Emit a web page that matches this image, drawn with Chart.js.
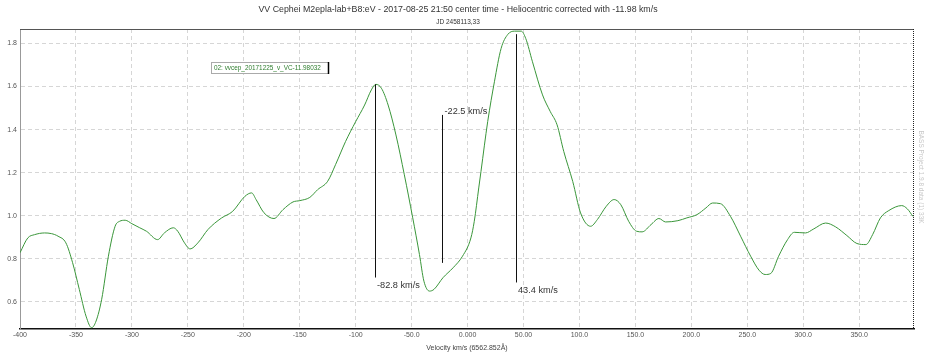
<!DOCTYPE html>
<html>
<head>
<meta charset="utf-8">
<script src="https://cdn.jsdelivr.net/npm/chart.js@4"></script>
<style>
html,body{margin:0;padding:0;background:#fff;}
#wrap{width:928px;height:356px;position:relative;}
</style>
</head>
<body>
<div id="wrap"><canvas id="c" width="928" height="356"></canvas></div>
<script>
const titleText = "VV Cephei M2epla-lab+B8:eV - 2017-08-25 21:50 center time - Heliocentric corrected with -11.98 km/s";
const subtitleText = "JD 2458113,33";
const xAxisTitle = "Velocity km/s (6562.852\u00C5)";
const legendText = "02: vvcep_20171225_v_VC-11.98032";
const sideText = "BASS Project 1.9.8 data (1) 33K";

const velocities = [-400,-393,-387,-378,-372,-366,-359,-353,-347,-341,-336,-332,-327,-321,-315,-311,-306,-300,-293,-287,-277,-271,-263,-259,-253,-248,-241,-232,-220,-210,-199,-193,-189,-182,-173,-165,-156,-150,-141,-134,-125,-118,-109,-100,-92,-86,-82,-77,-71,-64,-56.5,-49,-43,-39,-34,-30,-22,-13,-4.5,3,6,10,12,18,24,30,36,42,48,52,58,67,74,80,86,94,101,110,116,124,131,137,144,151,156,164,171,177,188,196,205,213,219,226,235,244,253,260.5,266,271,278,286,292,302,309.5,320,329,339,348,356,362,369,376.5,388,393,398];
const fluxes = [0.828,0.897,0.912,0.920,0.917,0.905,0.874,0.782,0.658,0.534,0.480,0.511,0.612,0.812,0.951,0.974,0.979,0.963,0.944,0.928,0.889,0.920,0.944,0.928,0.874,0.846,0.874,0.936,0.989,1.020,1.090,1.106,1.075,1.014,0.987,1.028,1.064,1.070,1.085,1.121,1.160,1.237,1.345,1.437,1.514,1.584,1.610,1.592,1.514,1.375,1.190,0.990,0.820,0.696,0.650,0.658,0.712,0.758,0.812,0.897,0.974,1.129,1.206,1.437,1.622,1.777,1.842,1.857,1.857,1.823,1.715,1.561,1.483,1.422,1.298,1.159,1.013,0.951,0.982,1.044,1.075,1.051,0.974,0.928,0.925,0.959,0.987,0.971,0.977,0.990,1.005,1.036,1.059,1.056,0.997,0.905,0.812,0.747,0.727,0.732,0.812,0.889,0.923,0.920,0.939,0.966,0.948,0.908,0.871,0.866,0.912,0.990,1.024,1.047,1.032,0.997];

const xTickValues = [-400,-350,-300,-250,-200,-150,-100,-50,0,50,100,150,200,250,300,350];
const xTickLabels = ["-400","-350","-300","-250","-200","-150","-100","-50.0","0.000","50.00","100.0","150.0","200.0","250.0","300.0","350.0"];
const yTickValues = [0.6,0.8,1.0,1.2,1.4,1.6,1.8];
const yTickLabels = ["0.6","0.8","1.0","1.2","1.4","1.6","1.8"];

const markerVelocities = [-82.8,-22.5,43.4];
const markerTops = [1.61,1.468,1.843];
const markerBottoms = [0.713,0.781,0.690];
const markerLabels = ["-82.8 km/s","-22.5 km/s","43.4 km/s"];
const markerLabelAtTop = [false,true,false];

const FONT = '"Liberation Sans", Arial, sans-serif';

const decor = {
  id: 'decor',
  afterDraw(chart) {
    const ctx = chart.ctx;
    const a = chart.chartArea;
    const xs = chart.scales.x, ys = chart.scales.y;
    ctx.save();
    // top border
    ctx.strokeStyle = '#555';
    ctx.lineWidth = 1;
    ctx.beginPath(); ctx.moveTo(a.left, a.top + 0.5); ctx.lineTo(a.right, a.top + 0.5); ctx.stroke();
    // right dotted border
    ctx.strokeStyle = '#222';
    ctx.setLineDash([1,1]);
    ctx.beginPath(); ctx.moveTo(a.right - 0.5, a.top); ctx.lineTo(a.right - 0.5, a.bottom); ctx.stroke();
    ctx.setLineDash([]);

    // titles
    ctx.fillStyle = '#333';
    ctx.textAlign = 'center';
    ctx.textBaseline = 'middle';
    ctx.font = '8.8px ' + FONT;
    ctx.fillText(titleText, 458, 10);
    ctx.font = '6.5px ' + FONT;
    ctx.fillText(subtitleText, 458, 22);
    ctx.fillStyle = '#444';
    ctx.font = '7px ' + FONT;
    ctx.fillText(xAxisTitle, 467, 348);

    // markers
    ctx.strokeStyle = '#111';
    ctx.lineWidth = 1;
    ctx.font = '9.2px ' + FONT;
    ctx.fillStyle = '#333';
    ctx.textAlign = 'left';
    for (let i = 0; i < markerVelocities.length; i++) {
      const x = Math.round(xs.getPixelForValue(markerVelocities[i])) + 0.5;
      const yt = ys.getPixelForValue(markerTops[i]);
      const yb = ys.getPixelForValue(markerBottoms[i]);
      ctx.beginPath(); ctx.moveTo(x, yt); ctx.lineTo(x, yb); ctx.stroke();
      if (markerLabelAtTop[i]) {
        ctx.fillText(markerLabels[i], x + 2, yt - 3);
      } else {
        ctx.fillText(markerLabels[i], x + 1.5, yb + 8);
      }
    }

    // legend box
    ctx.fillStyle = '#fff';
    ctx.fillRect(211.5, 62.5, 117, 11);
    ctx.strokeStyle = '#aaa';
    ctx.lineWidth = 1;
    ctx.strokeRect(211.5, 62.5, 117, 11);
    ctx.strokeStyle = '#000';
    ctx.lineWidth = 1.5;
    ctx.beginPath(); ctx.moveTo(328.5, 62); ctx.lineTo(328.5, 74); ctx.stroke();
    ctx.fillStyle = '#2e7d2e';
    ctx.font = '6.4px ' + FONT;
    ctx.textAlign = 'left';
    ctx.fillText(legendText, 214, 68.5);

    // side text
    ctx.translate(921, 177);
    ctx.rotate(Math.PI / 2);
    ctx.fillStyle = '#c8c8c8';
    ctx.font = '6.5px ' + FONT;
    ctx.textAlign = 'center';
    ctx.fillText(sideText, 0, 0);
    ctx.restore();
  }
};

new Chart(document.getElementById('c'), {
  type: 'line',
  data: {
    datasets: [{
      data: velocities.map((v, i) => ({x: v, y: fluxes[i]})),
      borderColor: 'rgb(58,150,58)',
      borderWidth: 1,
      pointRadius: 0,
      cubicInterpolationMode: 'monotone',
      fill: false
    }]
  },
  options: {
    responsive: false,
    animation: false,
    events: [],
    layout: { padding: { top: 29, right: 14, left: 0, bottom: 0 } },
    plugins: { legend: { display: false }, tooltip: { enabled: false }, title: { display: false } },
    scales: {
      x: {
        type: 'linear',
        min: -400,
        max: 399,
        afterFit(s) { s.height = 27; },
        afterBuildTicks(s) { s.ticks = xTickValues.map(v => ({value: v})); },
        ticks: {
          includeBounds: false,
          autoSkip: false,
          maxRotation: 0,
          padding: 2,
          color: '#555',
          font: { family: FONT, size: 7 },
          callback(v) { const i = xTickValues.indexOf(v); return i >= 0 ? xTickLabels[i] : ''; }
        },
        grid: { color: '#d6d6d6', drawTicks: false, lineWidth: 1 },
        border: { display: true, color: '#111', width: 1.5, dash: [4, 3] }
      },
      y: {
        type: 'linear',
        min: 0.474,
        max: 1.867,
        afterFit(s) { s.width = 20; },
        afterBuildTicks(s) { s.ticks = yTickValues.map(v => ({value: v})); },
        ticks: {
          includeBounds: false,
          padding: 3,
          color: '#555',
          font: { family: FONT, size: 7 },
          callback(v) { const i = yTickValues.findIndex(t => Math.abs(t - v) < 1e-6); return i >= 0 ? yTickLabels[i] : ''; }
        },
        grid: { color: '#d6d6d6', drawTicks: false, lineWidth: 1 },
        border: { display: true, color: '#999', width: 1, dash: [4, 3] }
      }
    }
  },
  plugins: [decor]
});
</script>
</body>
</html>
